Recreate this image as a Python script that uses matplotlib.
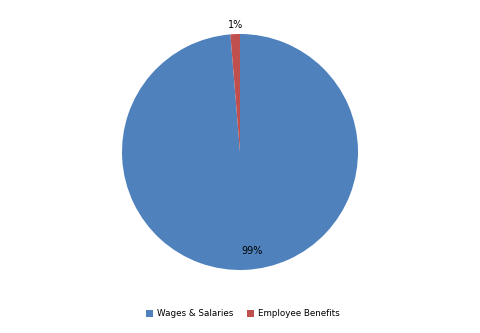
import matplotlib
matplotlib.use("Agg")
import matplotlib.pyplot as plt
from matplotlib.patches import Patch

categories = ["Wages & Salaries", "Employee Benefits"]
values = [98.7, 1.3]
labels = ["99%", "1%"]
colors = ["#4F81BD", "#C0504D"]

fig = plt.figure(figsize=(4.8, 3.33), dpi=100)
ax = fig.add_axes([122/480, (333-270)/333, 236/480, 236/333])
wedges, _ = ax.pie(values, colors=colors, startangle=90, counterclock=False,
                   radius=1.0, wedgeprops=dict(edgecolor="none", linewidth=0))
ax.set_xlim(-1, 1)
ax.set_ylim(-1, 1)
ax.set_aspect("equal")

label_pos = [(0.10, -0.84), (-0.04, 1.08)]
for lab, (x, y) in zip(labels, label_pos):
    ax.text(x, y, lab, ha="center", va="center", fontsize=7, color="black")

handles = [Patch(facecolor=c, edgecolor="none") for c in colors]
fig.legend(handles, categories, loc="center", bbox_to_anchor=(243/480, 1 - 314/333),
           ncol=2, frameon=False, fontsize=6.3, handlelength=0.8, handleheight=0.8,
           handletextpad=0.4, columnspacing=1.6)

fig.savefig("out.png", dpi=100)
